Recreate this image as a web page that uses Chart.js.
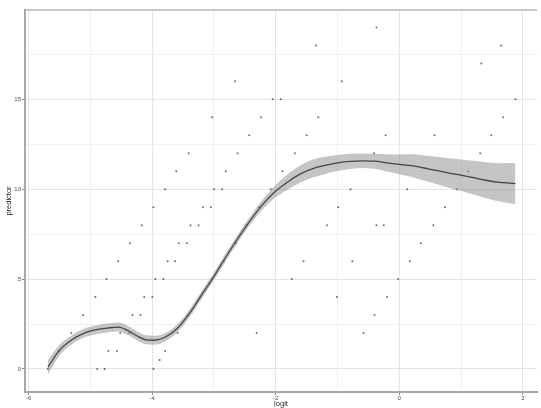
<!DOCTYPE html>
<html>
<head>
<meta charset="utf-8">
<script src="https://cdn.jsdelivr.net/npm/chart.js@4/dist/chart.umd.min.js"></script>
<style>
  html, body { margin: 0; padding: 0; background: #fff; }
  canvas { display: block; }
</style>
</head>
<body>
<canvas id="fitChart" width="541" height="408"></canvas>
<script>
'use strict';

// observed points (logit, predictor)
const pointX = [
  -5.69, -5.51, -5.31, -5.12, -4.92, -4.89, -4.77, -4.74, -4.71, -4.57,
  -4.55, -4.52, -4.36, -4.37, -4.32, -4.19, -4.17, -4.13, -4.0, -3.98,
  -3.98, -3.95, -3.82, -3.88, -3.79, -3.75, -3.63, -3.59, -3.57, -3.44,
  -3.38, -3.25, -3.18, -3.05, -3.42, -3.22, -3.03, -2.84, -2.65, -2.47,
  -2.27, -2.31,
  -3.79, -3.61, -3.41, -3.03, -3.0, -2.87, -2.81, -2.66, -2.62, -2.43,
  -2.24, -2.08, -2.05, -1.92, -1.89, -1.69, -1.5, -1.35, -1.31, -0.93,
  -0.79, -0.41, -0.37, -0.22, 0.13, 0.57, 0.93, 1.12, 1.31, 1.33,
  1.49, 1.65, 1.68, 1.88,
  -1.74, -1.55, -1.17, -1.01, -0.99, -0.76, -0.58, -0.4, -0.37, -0.25,
  -0.2, -0.02, 0.17, 0.35, 0.55, 0.74,
];
const pointY = [
  0, 1, 2, 3, 4, 0, 0, 5, 1, 1,
  6, 2, 7, 2, 3, 3, 8, 4, 4, 9,
  0, 5, 5, 0.5, 1, 6, 6, 2, 7, 7,
  8, 8, 9, 9, 3, 4, 5, 6, 7, 8,
  9, 2,
  10, 11, 12, 14, 10, 10, 11, 16, 12, 13,
  14, 10, 15, 15, 11, 12, 13, 18, 14, 16,
  10, 12, 19, 13, 10, 13, 10, 11, 12, 17,
  13, 18, 14, 15,
  5, 6, 8, 4, 9, 6, 2, 3, 8, 8,
  4, 5, 6, 7, 8, 9,
];

// smoother: fitted line and confidence band
const fitX = [
  -5.69, -5.5, -5.3, -5.1, -4.9, -4.7, -4.55, -4.4, -4.25, -4.1,
  -3.97, -3.8, -3.6, -3.4, -3.2, -3.0, -2.8, -2.6, -2.4, -2.2,
  -2.0, -1.8, -1.6, -1.4, -1.2, -1.0, -0.8, -0.6, -0.4, -0.2,
  0.0, 0.2, 0.4, 0.6, 0.8, 1.0, 1.2, 1.4, 1.6, 1.88,
];
const fitY = [
  0.10, 1.05, 1.63, 2.00, 2.19, 2.29, 2.33, 2.15, 1.85, 1.62,
  1.60, 1.75, 2.24, 3.08, 4.12, 5.15, 6.27, 7.33, 8.32, 9.20,
  9.90, 10.42, 10.85, 11.15, 11.33, 11.46, 11.55, 11.58, 11.56, 11.46,
  11.38, 11.31, 11.18, 11.05, 10.90, 10.78, 10.64, 10.50, 10.39, 10.31,
];
const bandLow = [
  -0.30, 0.75, 1.38, 1.75, 1.94, 2.04, 2.08, 1.90, 1.60, 1.37,
  1.35, 1.52, 2.02, 2.86, 3.90, 4.93, 6.05, 7.11, 8.09, 8.93,
  9.55, 9.99, 10.37, 10.65, 10.85, 11.01, 11.13, 11.18, 11.14, 10.98,
  10.83, 10.68, 10.48, 10.29, 10.08, 9.90, 9.70, 9.50, 9.33, 9.16,
];
const bandHigh = [
  0.50, 1.35, 1.88, 2.25, 2.44, 2.54, 2.58, 2.40, 2.10, 1.87,
  1.85, 1.98, 2.46, 3.30, 4.34, 5.37, 6.49, 7.55, 8.55, 9.47,
  10.25, 10.85, 11.33, 11.65, 11.81, 11.91, 11.97, 11.98, 11.98, 11.94,
  11.93, 11.94, 11.88, 11.81, 11.72, 11.66, 11.58, 11.50, 11.45, 11.46,
];

const xLabelEvery = 2;
const yLabelEvery = 5;

const toXY = (xs, ys) => xs.map((x, i) => ({ x: x, y: ys[i] }));

const majorGrid = '#e4e4e4';
const minorGrid = '#f0f0f0';
const axisGrey = '#a8a8a8';
const textGrey = '#4d4d4d';

const isMultiple = (v, m) => Math.abs(v / m - Math.round(v / m)) < 1e-6;

// top edge of the panel
const panelTop = {
  id: 'panelTop',
  afterDraw(chart) {
    const { ctx, chartArea } = chart;
    ctx.save();
    ctx.strokeStyle = '#b4b4b4';
    ctx.lineWidth = 1.5;
    ctx.beginPath();
    ctx.moveTo(chartArea.left, chartArea.top);
    ctx.lineTo(chartArea.right, chartArea.top);
    ctx.stroke();
    ctx.restore();
  },
};

const ctx = document.getElementById('fitChart');

const myChart = new Chart(ctx, {
  type: 'scatter',
  data: {
    datasets: [
      {
        type: 'line',
        label: 'fit',
        data: toXY(fitX, fitY),
        borderColor: '#454545',
        borderWidth: 1.3,
        pointRadius: 0,
        cubicInterpolationMode: 'monotone',
        fill: false,
        order: 1,
      },
      {
        type: 'line',
        label: 'low',
        data: toXY(fitX, bandLow),
        borderWidth: 0,
        borderColor: 'rgba(0,0,0,0)',
        pointRadius: 0,
        cubicInterpolationMode: 'monotone',
        fill: false,
        order: 2,
      },
      {
        type: 'line',
        label: 'high',
        data: toXY(fitX, bandHigh),
        borderWidth: 0,
        borderColor: 'rgba(0,0,0,0)',
        backgroundColor: 'rgba(140,140,140,0.5)',
        pointRadius: 0,
        cubicInterpolationMode: 'monotone',
        fill: 1,
        order: 2,
      },
      {
        label: 'points',
        data: toXY(pointX, pointY),
        pointRadius: 1,
        pointBorderWidth: 0,
        backgroundColor: 'rgba(45,45,45,0.7)',
        order: 3,
      },
    ],
  },
  options: {
    responsive: false,
    animation: false,
    layout: { padding: { top: 10, right: 0, bottom: 0, left: 0 } },
    plugins: {
      legend: { display: false },
      tooltip: { enabled: false },
    },
    scales: {
      x: {
        type: 'linear',
        min: -6.06,
        max: 2.23,
        afterFit(scale) { scale.height = 16; },
        border: { display: true, color: axisGrey, width: 2 },
        grid: {
          color: (c) => isMultiple(c.tick.value, xLabelEvery) ? majorGrid : minorGrid,
          tickColor: (c) => isMultiple(c.tick.value, xLabelEvery) ? '#888' : 'rgba(0,0,0,0)',
          tickLength: 3,
          lineWidth: 1,
        },
        ticks: {
          stepSize: 1,
          includeBounds: false,
          autoSkip: false,
          maxRotation: 0,
          padding: 0,
          color: textGrey,
          font: { family: 'Liberation Sans, Arial, sans-serif', size: 6 },
          callback: (v) => isMultiple(v, xLabelEvery) ? String(Math.round(v)) : '',
        },
        title: {
          display: true,
          text: 'logit',
          color: '#222',
          padding: 0,
          font: { family: 'Liberation Sans, Arial, sans-serif', size: 7.5, lineHeight: 1 },
        },
      },
      y: {
        type: 'linear',
        min: -1.28,
        max: 19.97,
        afterFit(scale) { scale.width = 25; },
        border: { display: true, color: axisGrey, width: 2 },
        grid: {
          color: (c) => isMultiple(c.tick.value, yLabelEvery) ? majorGrid : minorGrid,
          tickColor: (c) => isMultiple(c.tick.value, yLabelEvery) ? '#888' : 'rgba(0,0,0,0)',
          tickLength: 3,
          lineWidth: 1,
        },
        ticks: {
          stepSize: 2.5,
          includeBounds: false,
          autoSkip: false,
          padding: 1,
          color: textGrey,
          font: { family: 'Liberation Sans, Arial, sans-serif', size: 6 },
          callback: (v) => isMultiple(v, yLabelEvery) ? String(Math.round(v)) : '',
        },
        title: {
          display: true,
          text: 'predictor',
          color: '#222',
          padding: { top: 5, bottom: 0 },
          font: { family: 'Liberation Sans, Arial, sans-serif', size: 7.5, lineHeight: 1 },
        },
      },
    },
  },
  plugins: [panelTop],
});
</script>
</body>
</html>
